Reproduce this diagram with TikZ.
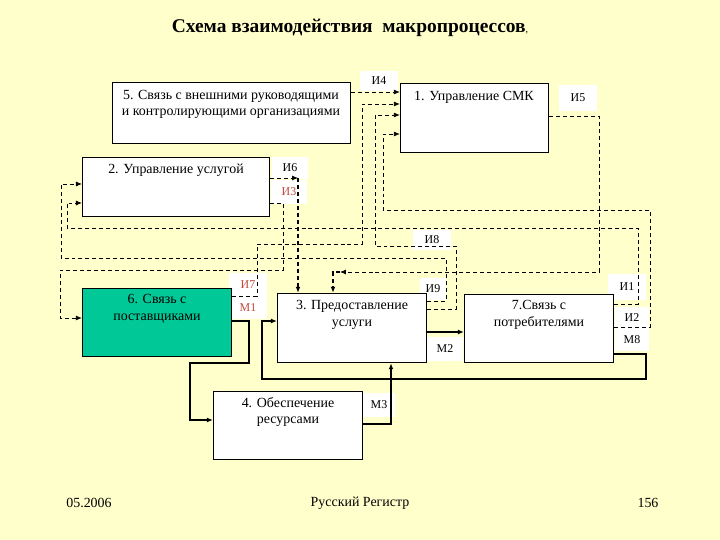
\documentclass[tikz,border=0pt]{standalone}
\usepackage{fontspec}
\setmainfont{Liberation Serif}
\usetikzlibrary{arrows.meta}
\definecolor{bg}{RGB}{255,255,204}
\definecolor{tealsix}{RGB}{0,200,150}
\definecolor{redlbl}{RGB}{190,75,60}
\begin{document}
\begin{tikzpicture}[x=1bp,y=-1bp,
  box/.style={draw, line width=0.8pt, fill=white, inner sep=0pt},
  btxt/.style={font=\fontsize{14}{16.5}\selectfont, align=center, inner sep=0pt},
  lbl/.style={fill=white, font=\fontsize{12}{14}\selectfont, inner sep=0pt},
  rlbl/.style={lbl, text=redlbl},
  dl/.style={line width=0.8pt, dash pattern=on 4pt off 3pt, -{Latex[length=6pt,width=5pt]}},
  dlt/.style={dl, line width=1.4pt},
  ml/.style={line width=2.2pt, -{Latex[length=6pt,width=5pt]}},
  foot/.style={font=\fontsize{14}{16}\selectfont, inner sep=0pt}
]
\useasboundingbox (0,0) rectangle (720,540);
\fill[bg] (0,0) rectangle (720,540);

% title and footer
\node[inner sep=0pt] (title) at (350,28) {\fontsize{19.5}{22}\selectfont\bfseries Схема взаимодействия\ \ макропроцессов\normalfont\fontsize{10}{12}\selectfont,};
\node[foot] (f1) at (89,503) {05.2006};
\node[foot] (f2) at (360,503) {Русский Регистр};
\node[foot] (f3) at (648,503) {156};

% label backgrounds
\node[lbl, minimum width=38, minimum height=21] (lI4) at (379,81) {И4};
\node[lbl, minimum width=38, minimum height=26] (lI5) at (578,98) {И5};
\node[lbl, minimum width=36, minimum height=23] (lI6) at (290,168) {И6};
\node[rlbl, minimum width=36, minimum height=25] (lI3) at (289,192) {И3};
\node[lbl, minimum width=38, minimum height=20] (lI8) at (432,240) {И8};
\node[rlbl, minimum width=38, minimum height=24] (lI7) at (248,285) {И7};
\node[rlbl, minimum width=38, minimum height=22] (lM1) at (248,308) {М1};
\node[lbl, minimum width=26, minimum height=22] (lI9) at (433,289) {И9};
\node[lbl, minimum width=38, minimum height=26] (lI1) at (627,287) {И1};
\node[lbl, minimum width=35, minimum height=22] (lI2) at (632,318) {И2};
\node[lbl, minimum width=35, minimum height=22] (lM8) at (632,340) {М8};
\node[lbl, minimum width=36, minimum height=24] (lM2) at (445,349) {М2};
\node[lbl, minimum width=32, minimum height=25] (lM3) at (379,405) {М3};

% boxes
\node[box, minimum width=239, minimum height=62] (b5) at (231.5,113) {};
\node[box, minimum width=149, minimum height=70] (b1) at (474.5,118) {};
\node[box, minimum width=188, minimum height=60] (b2) at (176,187) {};
\node[box, fill=tealsix, minimum width=150, minimum height=69] (b6) at (157,322.5) {};
\node[box, minimum width=150, minimum height=70] (b3) at (352,328) {};
\node[box, minimum width=150, minimum height=69] (b7) at (539,328.5) {};
\node[box, minimum width=150, minimum height=69] (b4) at (288,425.5) {};

\node[btxt] (t5) at (231,104.5) {5. Связь с внешними руководящими\\и контролирующими организациями};
\node[btxt] (t1) at (474,97) {1. Управление СМК};
\node[btxt] (t2) at (176,170) {2. Управление услугой};
\node[btxt] (t6) at (157,309) {6. Связь с\\поставщиками};
\node[btxt] (t3) at (352,315) {3. Предоставление\\услуги};
\node[btxt] (t7) at (539,315) {7.Связь с\\потребителями};
\node[btxt] (t4) at (288,412) {4. Обеспечение\\ресурсами};

% dashed information flows
\draw[dl] (b5.east |- 0,92) -- (b1.west |- 0,92);
\draw[dl] (b6.east |- 0,296) -| (257,244) -| (362,104) -- (b1.west |- 0,104);
\draw[dl] (b3.east |- 0,309) -| (456,246) -| (375,115) -- (b1.west |- 0,115);
\draw[dl] (b7.east |- 0,327) -| (650,210) -| (383,134) -- (b1.west |- 0,134);
\draw[dl] (b1.east |- 0,116) -| (599,272) -- (340,272);
\draw[dlt] (340,272) -| (b3.north -| 333,0);
\draw[dl] (b2.east |- 0,178) -- (298,178);
\draw[dlt] (298,178) -- (b3.north -| 298,0);
\draw[dl] (b2.east |- 0,203) -| (283,270) -| (60,318) -- (b6.west |- 0,318);
\draw[dl] (b3.east |- 0,301) -| (446,258) -| (61,184) -- (b2.west |- 0,184);
\draw[dl] (b7.east |- 0,304) -| (638,228) -| (67,203) -- (b2.west |- 0,203);

% solid material flows
\draw[ml] (b6.east |- 0,321) -| (249,363) -| (190,420) -- (b4.west |- 0,420);
\draw[ml] (b7.east |- 0,354) -| (646,379) -| (262,321) -- (b3.west |- 0,321);
\draw[ml] (b3.east |- 0,332) -- (b7.west |- 0,332);
\draw[ml] (b4.east |- 0,424) -| (b3.south -| 391,0);
\end{tikzpicture}
\end{document}
